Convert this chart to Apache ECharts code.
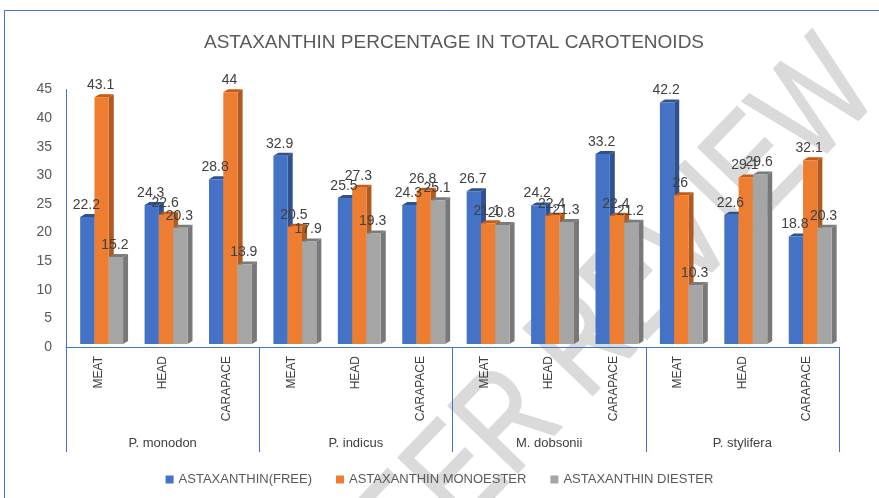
<!DOCTYPE html>
<html>
<head>
<meta charset="utf-8">
<script src="https://cdn.jsdelivr.net/npm/echarts@6/dist/echarts.min.js"></script>
<style>
  html, body { margin: 0; padding: 0; background: #fff; }
  #chart { width: 879px; height: 498px; }
</style>
</head>
<body>
<div id="chart"></div>
<script>
// data
const species = ["P. monodon", "P. indicus", "M. dobsonii", "P. stylifera"];
const categories = [
  "MEAT", "HEAD", "CARAPACE",
  "MEAT", "HEAD", "CARAPACE",
  "MEAT", "HEAD", "CARAPACE",
  "MEAT", "HEAD", "CARAPACE"
];
const seriesNames = ["ASTAXANTHIN(FREE)", "ASTAXANTHIN MONOESTER", "ASTAXANTHIN DIESTER"];
const freeValues = [22.2, 24.3, 28.8, 32.9, 25.5, 24.3, 26.7, 24.2, 33.2, 42.2, 22.6, 18.8];
const monoValues = [43.1, 22.6, 44, 20.5, 27.3, 26.8, 21.1, 22.4, 22.4, 26, 29.1, 32.1];
const diValues = [15.2, 20.3, 13.9, 17.9, 19.3, 25.1, 20.8, 21.3, 21.2, 10.3, 29.6, 20.3];
const yMin = 0, yMax = 45, yStep = 5;

// front, side, top colours of the 3d bars
const colors = [
  ["#4472C4", "#2F528F", "#2F528F"],
  ["#ED7D31", "#AE5A21", "#C55A11"],
  ["#A5A5A5", "#787878", "#7B7B7B"]
];
const allValues = [freeValues, monoValues, diValues];

const chart = echarts.init(document.getElementById("chart"));

function barGeom(api, s) {
  const i = api.value(0), v = api.value(1);
  const base = api.coord([i, 0]);
  const top = api.coord([i, v]);
  const cw = api.size([1, 0])[0];
  const bw = cw * 0.222;
  const x = base[0] - cw * 0.28 + s * bw;
  const lift = 3; // 3d floor
  return { v: v, x: x, bw: bw, y0: base[1] - lift, y1: top[1] - lift };
}

function makeBar(s) {
  return function (params, api) {
    const g = barGeom(api, s);
    const dx = 5, dy = 3;
    const c = colors[s];
    return {
      type: "group",
      children: [
        {
          type: "polygon",
          shape: { points: [[g.x + g.bw, g.y1], [g.x + g.bw + dx, g.y1 - dy], [g.x + g.bw + dx, g.y0 - dy], [g.x + g.bw, g.y0]] },
          style: { fill: c[1] }
        },
        {
          type: "polygon",
          shape: { points: [[g.x, g.y1], [g.x + dx, g.y1 - dy], [g.x + g.bw + dx, g.y1 - dy], [g.x + g.bw, g.y1]] },
          style: { fill: c[2] }
        },
        {
          type: "rect",
          shape: { x: g.x, y: g.y1, width: g.bw, height: g.y0 - g.y1 },
          style: { fill: c[0] }
        }
      ]
    };
  };
}

function makeLabel(s) {
  return function (params, api) {
    const g = barGeom(api, s);
    return {
      type: "text",
      style: {
        text: String(g.v),
        x: g.x + g.bw / 2 - 1,
        y: g.y1 - 5,
        align: "center",
        verticalAlign: "bottom",
        fill: "#404040",
        font: '14px "Liberation Sans", sans-serif'
      }
    };
  };
}

const series = [];
allValues.forEach(function (vals, s) {
  series.push({
    name: seriesNames[s],
    type: "custom",
    z: 2,
    itemStyle: { color: colors[s][0] },
    renderItem: makeBar(s),
    encode: { x: 0, y: 1 },
    data: vals.map(function (v, i) { return [i, v]; })
  });
});
allValues.forEach(function (vals, s) {
  series.push({
    name: "label" + s,
    type: "custom",
    z: 5,
    silent: true,
    renderItem: makeLabel(s),
    encode: { x: 0, y: 1 },
    data: vals.map(function (v, i) { return [i, v]; })
  });
});

chart.setOption({
  animation: false,
  backgroundColor: "#fff",
  title: {
    text: "ASTAXANTHIN PERCENTAGE IN TOTAL CAROTENOIDS",
    left: 449,
    top: 28,
    textAlign: "center",
    textStyle: {
      color: "#595959",
      fontSize: 19,
      fontWeight: "normal",
      fontFamily: '"Liberation Sans", sans-serif'
    }
  },
  graphic: [
    {
      type: "rect",
      z: -10,
      silent: true,
      shape: { x: 4.5, y: 10.5, width: 1000, height: 1000 },
      style: { fill: "none", stroke: "#4472C4", lineWidth: 1 }
    },
    {
      // watermark
      type: "text",
      z: -5,
      silent: true,
      x: 594,
      y: 338,
      scaleX: 0.77,
      rotation: 46 * Math.PI / 180,
      style: {
        text: "PEER REVIEW",
        align: "center",
        verticalAlign: "middle",
        fill: "#dadada",
        stroke: "#dadada",
        lineWidth: 2,
        font: '140px "Liberation Sans", sans-serif'
      }
    }
  ],
  legend: {
    data: seriesNames,
    bottom: 7,
    left: "center",
    icon: "rect",
    itemWidth: 8,
    itemHeight: 8,
    itemGap: 24,
    textStyle: {
      color: "#595959",
      fontSize: 13,
      fontFamily: '"Liberation Sans", sans-serif'
    }
  },
  grid: { left: 66, right: 40, top: 89.5, bottom: 151 },
  xAxis: [
    {
      type: "category",
      data: categories,
      position: "bottom",
      axisLine: { lineStyle: { color: "#4472C4", width: 1 } },
      axisTick: { show: false },
      axisLabel: {
        rotate: 90,
        margin: 9,
        interval: 0,
        color: "#404040",
        fontSize: 12,
        fontFamily: '"Liberation Sans", sans-serif'
      }
    },
    {
      type: "category",
      data: species,
      position: "bottom",
      axisLine: { show: false },
      axisTick: { show: true, length: 105, lineStyle: { color: "#4472C4", width: 1 } },
      axisLabel: {
        margin: 90,
        color: "#404040",
        fontSize: 13,
        fontFamily: '"Liberation Sans", sans-serif'
      }
    }
  ],
  yAxis: {
    type: "value",
    min: yMin,
    max: yMax,
    interval: yStep,
    axisLine: { show: true, lineStyle: { color: "#4472C4", width: 1 } },
    axisTick: { show: false },
    splitLine: { show: false },
    axisLabel: {
      margin: 14,
      color: "#595959",
      fontSize: 14,
      fontFamily: '"Liberation Sans", sans-serif'
    }
  },
  series: series
});
</script>
</body>
</html>
